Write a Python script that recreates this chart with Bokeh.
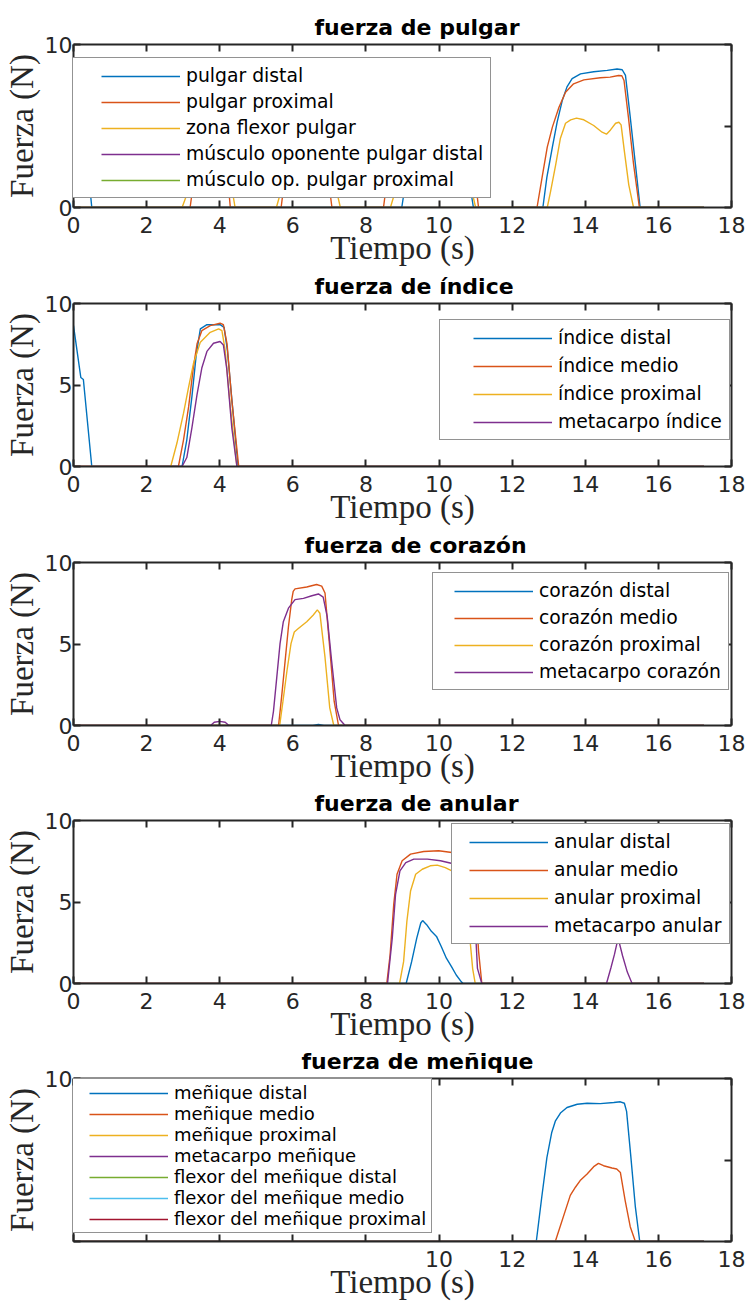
from bokeh.plotting import figure
from bokeh.models import Range1d, LinearAxis, FixedTicker, Legend, LegendItem
from bokeh.layouts import column
from bokeh.embed import file_html
from bokeh.resources import INLINE

# ---------------- data ----------------
T_END = 17.25
X_TICKS = [0, 2, 4, 6, 8, 10, 12, 14, 16, 18]
Y_TICKS = [0, 5, 10]
X_LABEL = "Tiempo (s)"
Y_LABEL = "Fuerza (N)"
COLORS = ["#0072BD", "#D95319", "#EDB120", "#7E2F8E", "#77AC30", "#4DBEEE", "#A2142F"]

TITLES = ["fuerza de pulgar", "fuerza de índice", "fuerza de corazón",
          "fuerza de anular", "fuerza de meñique"]

zero_t = [0, T_END]
zero_f = [0, 0]

# panel 1: pulgar
pulgar_names = ["pulgar distal", "pulgar proximal", "zona flexor pulgar",
                "músculo oponente pulgar distal", "músculo op. pulgar proximal"]
pulgar_distal_t = [0, 0.2, 0.27, 0.5, 8.98, 9.15, 9.4, 10.6, 10.8, 10.94, 12.84, 12.95, 13.10, 13.23,
                   13.37, 13.50, 13.64, 13.87, 14.23, 14.60, 14.87, 15.01, 15.10, 15.23, 15.37, 15.50, T_END]
pulgar_distal_f = [8.6, 5.5, 5.35, 0, 0, 2.5, 3.4, 3.2, 2.0, 0, 0, 1.86, 3.70, 5.24,
                   6.56, 7.40, 7.90, 8.20, 8.33, 8.41, 8.50, 8.45, 8.10, 5.54, 2.68, 0, 0]
pulgar_proximal_t = [0, 3.19, 3.4, 3.7, 4.1, 4.29, 5.68, 5.9, 6.4, 6.9, 7.07, 8.48, 8.7, 9.2, 10.6,
                     10.95, 11.08, 12.68, 12.82, 12.96, 13.10, 13.28, 13.46, 13.68, 13.96, 14.41,
                     14.68, 14.91, 15.00, 15.06, 15.18, 15.32, 15.48, T_END]
pulgar_proximal_f = [0, 0, 3.5, 5.2, 4.8, 0, 0, 4.0, 4.5, 3.0, 0, 0, 3.8, 5.5, 5.3,
                     2.5, 0, 0, 1.86, 3.70, 4.93, 6.15, 7.07, 7.59, 7.83, 7.96,
                     8.00, 8.10, 8.08, 7.79, 5.54, 2.68, 0, 0]
zona_flexor_t = [0, 2.97, 3.3, 3.8, 4.2, 4.42, 5.55, 5.9, 6.6, 7.1, 7.3, 8.67, 9.0, 9.6, 10.5, 10.85,
                 11.0, 12.96, 13.05, 13.19, 13.32, 13.46, 13.60, 13.76, 13.96, 14.23, 14.46, 14.58,
                 14.69, 14.83, 14.92, 14.98, 15.07, 15.19, 15.32, T_END]
zona_flexor_f = [0, 0, 2.0, 3.6, 3.0, 0, 0, 2.8, 3.3, 2.0, 0, 0, 2.5, 4.0, 3.8, 1.5,
                 0, 0, 0.98, 2.62, 4.25, 5.17, 5.38, 5.48, 5.38, 5.03, 4.62, 4.50,
                 4.76, 5.17, 5.23, 5.07, 3.44, 1.39, 0, 0]

# panel 2: indice
indice_names = ["índice distal", "índice medio", "índice proximal", "metacarpo índice"]
indice_distal_t = [0, 0.2, 0.27, 0.5, 2.97, 3.10, 3.24, 3.36, 3.47, 3.65, 4.01, 4.12, 4.21, 4.35, 4.50, T_END]
indice_distal_f = [8.64, 5.46, 5.34, 0, 0, 1.64, 4.3, 6.9, 8.44, 8.7, 8.7, 8.54, 7.12, 3.67, 0, 0]
indice_medio_t = [0, 2.87, 3.01, 3.15, 3.28, 3.38, 3.51, 3.74, 4.01, 4.10, 4.20, 4.33, 4.52, T_END]
indice_medio_f = [0, 0, 1.64, 3.67, 6.1, 7.53, 8.33, 8.64, 8.79, 8.7, 7.53, 4.08, 0, 0]
indice_proximal_t = [0, 2.66, 2.83, 3.01, 3.15, 3.28, 3.47, 3.74, 3.97, 4.06, 4.15, 4.29, 4.47, T_END]
indice_proximal_f = [0, 0, 1.44, 3.27, 4.89, 6.3, 7.63, 8.23, 8.44, 8.33, 7.12, 3.67, 0, 0]
metacarpo_indice_t = [0, 2.97, 3.10, 3.24, 3.38, 3.51, 3.65, 3.83, 4.01, 4.10, 4.19, 4.33, 4.47, T_END]
metacarpo_indice_f = [0, 0, 0.55, 2.39, 4.42, 6.04, 7.06, 7.56, 7.67, 7.46, 6.04, 2.39, 0, 0]

# panel 3: corazon
corazon_names = ["corazón distal", "corazón medio", "corazón proximal", "metacarpo corazón"]
corazon_distal_t = [0, 6.55, 6.7, 6.85, T_END]
corazon_distal_f = [0, 0, 0.06, 0, 0]
corazon_medio_t = [0, 5.61, 5.70, 5.79, 5.88, 5.97, 6.01, 6.06, 6.38, 6.65, 6.79, 6.88, 7.00, 7.13, 7.25, T_END]
corazon_medio_f = [0, 0, 1.91, 3.98, 6.06, 7.72, 8.23, 8.38, 8.5, 8.65, 8.55, 8.13, 5.02, 1.49, 0, 0]
corazon_proximal_t = [0, 5.64, 5.73, 5.84, 5.95, 6.04, 6.15, 6.38, 6.56, 6.67, 6.74, 6.88, 7.01, 7.12, T_END]
corazon_proximal_f = [0, 0, 1.49, 3.36, 5.02, 5.74, 5.95, 6.37, 6.78, 7.09, 6.89, 4.19, 1.08, 0, 0]
metacarpo_corazon_t = [0, 3.75, 3.85, 4.0, 4.15, 4.25, 5.41, 5.47, 5.56, 5.65, 5.74, 5.88, 6.06, 6.29,
                       6.52, 6.70, 6.83, 6.94, 7.06, 7.20, 7.29, 7.43, T_END]
metacarpo_corazon_f = [0, 0, 0.2, 0.25, 0.2, 0, 0, 0.87, 2.94, 5.02, 6.37, 7.2, 7.72, 7.8,
                       7.96, 8.07, 7.88, 6.68, 3.98, 1.08, 0.35, 0, 0]

# panel 4: anular
anular_names = ["anular distal", "anular medio", "anular proximal", "metacarpo anular"]
anular_distal_t = [0, 9.10, 9.25, 9.39, 9.50, 9.55, 9.66, 9.79, 9.93, 10.06, 10.20, 10.34, 10.47, 10.61, 10.66, T_END]
anular_distal_f = [0, 0, 1.34, 2.78, 3.71, 3.86, 3.61, 3.2, 2.89, 2.27, 1.55, 1.03, 0.52, 0.1, 0, 0]
anular_medio_t = [0, 8.57, 8.66, 8.76, 8.85, 8.99, 9.22, 9.58, 9.99, 10.35, 10.7, 10.9, 11.0, 11.08, 11.17, T_END]
anular_medio_f = [0, 0, 1.75, 4.85, 6.7, 7.53, 7.94, 8.1, 8.14, 8.04, 7.9, 7.4, 5.0, 2.0, 0, 0]
anular_proximal_t = [0, 8.92, 9.03, 9.12, 9.22, 9.36, 9.54, 9.76, 9.95, 10.17, 10.35, 10.6, 10.75, 10.85,
                     10.92, 10.99, T_END]
anular_proximal_f = [0, 0, 1.34, 3.82, 5.67, 6.7, 7.01, 7.22, 7.26, 7.11, 6.91, 6.6, 5.0, 2.6,
                     0.9, 0, 0]
metacarpo_anular_t = [0, 8.59, 8.72, 8.81, 8.93, 9.09, 9.31, 9.68, 10.04, 10.36, 10.7, 10.9, 10.98, 11.05,
                      11.17, 14.58, 14.70, 14.80, 14.88, 14.93, 15.02, 15.15, 15.28, T_END]
metacarpo_anular_f = [0, 0, 2.78, 5.47, 6.91, 7.42, 7.63, 7.63, 7.53, 7.36, 7.2, 6.6, 4.0, 0.93,
                      0, 0, 0.95, 1.8, 2.6, 2.5, 1.7, 0.7, 0, 0]

# panel 5: menique
menique_names = ["meñique distal", "meñique medio", "meñique proximal", "metacarpo meñique",
                 "flexor del meñique distal", "flexor del meñique medio", "flexor del meñique proximal"]
menique_distal_t = [0, 12.66, 12.81, 12.95, 13.08, 13.18, 13.32, 13.50, 13.78, 14.05, 14.41, 14.78, 14.96,
                    15.07, 15.13, 15.24, 15.37, 15.49, T_END]
menique_distal_f = [0, 0, 2.73, 5.15, 6.67, 7.38, 7.88, 8.22, 8.42, 8.48, 8.46, 8.53, 8.57,
                    8.48, 7.98, 5.36, 2.12, 0, 0]
menique_medio_t = [0, 13.18, 13.59, 13.73, 13.86, 14.05, 14.23, 14.36, 14.50, 14.73, 14.86, 14.96, 15.09,
                   15.23, 15.37, T_END]
menique_medio_f = [0, 0, 2.83, 3.33, 3.74, 4.14, 4.59, 4.79, 4.65, 4.51, 4.45, 4.24, 2.53,
                   0.91, 0, 0]

PANELS = [
    (TITLES[0], pulgar_names, [(pulgar_distal_t, pulgar_distal_f), (pulgar_proximal_t, pulgar_proximal_f),
                               (zona_flexor_t, zona_flexor_f), (zero_t, zero_f), (zero_t, zero_f)]),
    (TITLES[1], indice_names, [(indice_distal_t, indice_distal_f), (indice_medio_t, indice_medio_f),
                               (indice_proximal_t, indice_proximal_f), (metacarpo_indice_t, metacarpo_indice_f)]),
    (TITLES[2], corazon_names, [(corazon_distal_t, corazon_distal_f), (corazon_medio_t, corazon_medio_f),
                                (corazon_proximal_t, corazon_proximal_f), (metacarpo_corazon_t, metacarpo_corazon_f)]),
    (TITLES[3], anular_names, [(anular_distal_t, anular_distal_f), (anular_medio_t, anular_medio_f),
                               (anular_proximal_t, anular_proximal_f), (metacarpo_anular_t, metacarpo_anular_f)]),
    (TITLES[4], menique_names, [(menique_distal_t, menique_distal_f), (menique_medio_t, menique_medio_f),
                                (zero_t, zero_f), (zero_t, zero_f), (zero_t, zero_f), (zero_t, zero_f),
                                (zero_t, zero_f)]),
]

# ---------------- layout / style ----------------
FIG_H = [269, 259, 258, 258, 258]
TOP_B = [44, 34, 34, 34, 34]
FRAME_H = 163
TITLE_OFF = [241, 241, 231, 241, 228]
# legend: x, y (frame px), dash gap, spacing, label width, padding, font size
LEG = [(-18, 9, 38, 5, 297, 7, "18.8px"),
       (366, 26, 26, 7, 164, 7, "18.8px"),
       (359, 35, 14, 6, 182, 7, "18.8px"),
       (378, 39, 10, 7, 168, 7, "18.8px"),
       (-14, 8, 26, 0, 254, 3, "18px")]
# tick labels lying under the legend box in the reference
HIDDEN_Y = [{5: ""}, {}, {}, {}, {0: "", 5: ""}]
HIDDEN_X = [{}, {}, {}, {}, {0: "", 2: "", 4: "", 6: "", 8: ""}]
AX_COLOR = "#262626"


def style_axis(ax, labels):
    ax.axis_line_color = AX_COLOR
    ax.axis_line_width = 2
    ax.major_tick_line_color = AX_COLOR
    ax.major_tick_line_width = 2
    ax.major_tick_in = 7
    ax.major_tick_out = 0
    ax.minor_tick_in = 0
    ax.minor_tick_out = 0
    ax.minor_tick_line_color = None
    if labels:
        ax.major_label_text_font = "DejaVu Sans"
        ax.major_label_text_font_size = "22px"
        ax.major_label_text_color = AX_COLOR
    else:
        ax.major_label_text_font_size = "0px"
        ax.major_label_text_color = None
        ax.major_label_standoff = 0


figs = []
for i, (title, names, series) in enumerate(PANELS):
    H = FIG_H[i]
    p = figure(width=751, height=H, x_range=Range1d(0, 18), y_range=Range1d(0, 10),
               output_backend="svg", toolbar_location=None,
               x_axis_location=None, y_axis_location=None,
               min_border_left=73, min_border_right=20,
               min_border_top=TOP_B[i], min_border_bottom=H - TOP_B[i] - FRAME_H)
    p.outline_line_color = None
    p.background_fill_color = "white"
    p.border_fill_color = "white"
    p.grid.visible = False

    xb = LinearAxis(ticker=FixedTicker(ticks=X_TICKS))
    style_axis(xb, True)
    xb.major_label_standoff = 9
    xb.major_label_overrides = HIDDEN_X[i]
    xb.axis_label = X_LABEL
    xb.axis_label_text_font = "Liberation Serif"
    xb.axis_label_text_font_size = "33px"
    xb.axis_label_text_font_style = "normal"
    xb.axis_label_text_color = AX_COLOR
    xb.axis_label_standoff = -6
    p.add_layout(xb, "below")
    xt = LinearAxis(ticker=FixedTicker(ticks=X_TICKS))
    style_axis(xt, False)
    p.add_layout(xt, "above")
    yl = LinearAxis(ticker=FixedTicker(ticks=Y_TICKS))
    style_axis(yl, True)
    yl.major_label_standoff = 1
    yl.major_label_overrides = HIDDEN_Y[i]
    yl.axis_label = Y_LABEL
    yl.axis_label_text_font = "Liberation Serif"
    yl.axis_label_text_font_size = "33px"
    yl.axis_label_text_font_style = "normal"
    yl.axis_label_text_color = AX_COLOR
    yl.axis_label_standoff = 2
    p.add_layout(yl, "left")
    yr = LinearAxis(ticker=FixedTicker(ticks=Y_TICKS))
    style_axis(yr, False)
    p.add_layout(yr, "right")

    p.title.text = title
    p.title.align = "left"
    p.title.offset = TITLE_OFF[i]
    p.title.vertical_align = "top"
    p.title.standoff = 6
    p.title.text_font = "DejaVu Sans"
    p.title.text_font_style = "bold"
    p.title.text_font_size = "22px"
    p.title.text_color = "black"

    lx, ly, gap, sp, lw, pad, fs = LEG[i]
    items = []
    for k, ((t, f), name) in enumerate(zip(series, names)):
        c = COLORS[k]
        p.line(x=t, y=f, line_color=c, line_width=1.4)
        # legend sample: same colour, drawn only in the legend (its data lie outside the view)
        d = p.line(x=[-5, -4], y=[-5, -5], line_color=c, line_width=1.4,
                   line_dash=f"0 {gap} 79 3000")
        items.append(LegendItem(label=name, renderers=[d]))

    leg = Legend(items=items, location=(lx, ly))
    leg.glyph_width = gap + 79
    leg.glyph_height = 20
    leg.label_height = 20
    leg.label_width = lw
    leg.label_standoff = 6
    leg.padding = pad
    leg.margin = 0
    leg.spacing = sp
    leg.border_line_color = AX_COLOR
    leg.border_line_width = 1
    leg.background_fill_color = "white"
    leg.background_fill_alpha = 1.0
    leg.label_text_font = "DejaVu Sans"
    leg.label_text_font_size = fs
    leg.label_text_color = "black"
    p.add_layout(leg)
    figs.append(p)

layout = column(*figs, spacing=0)
open("out.html", "w").write(file_html(layout, INLINE))
